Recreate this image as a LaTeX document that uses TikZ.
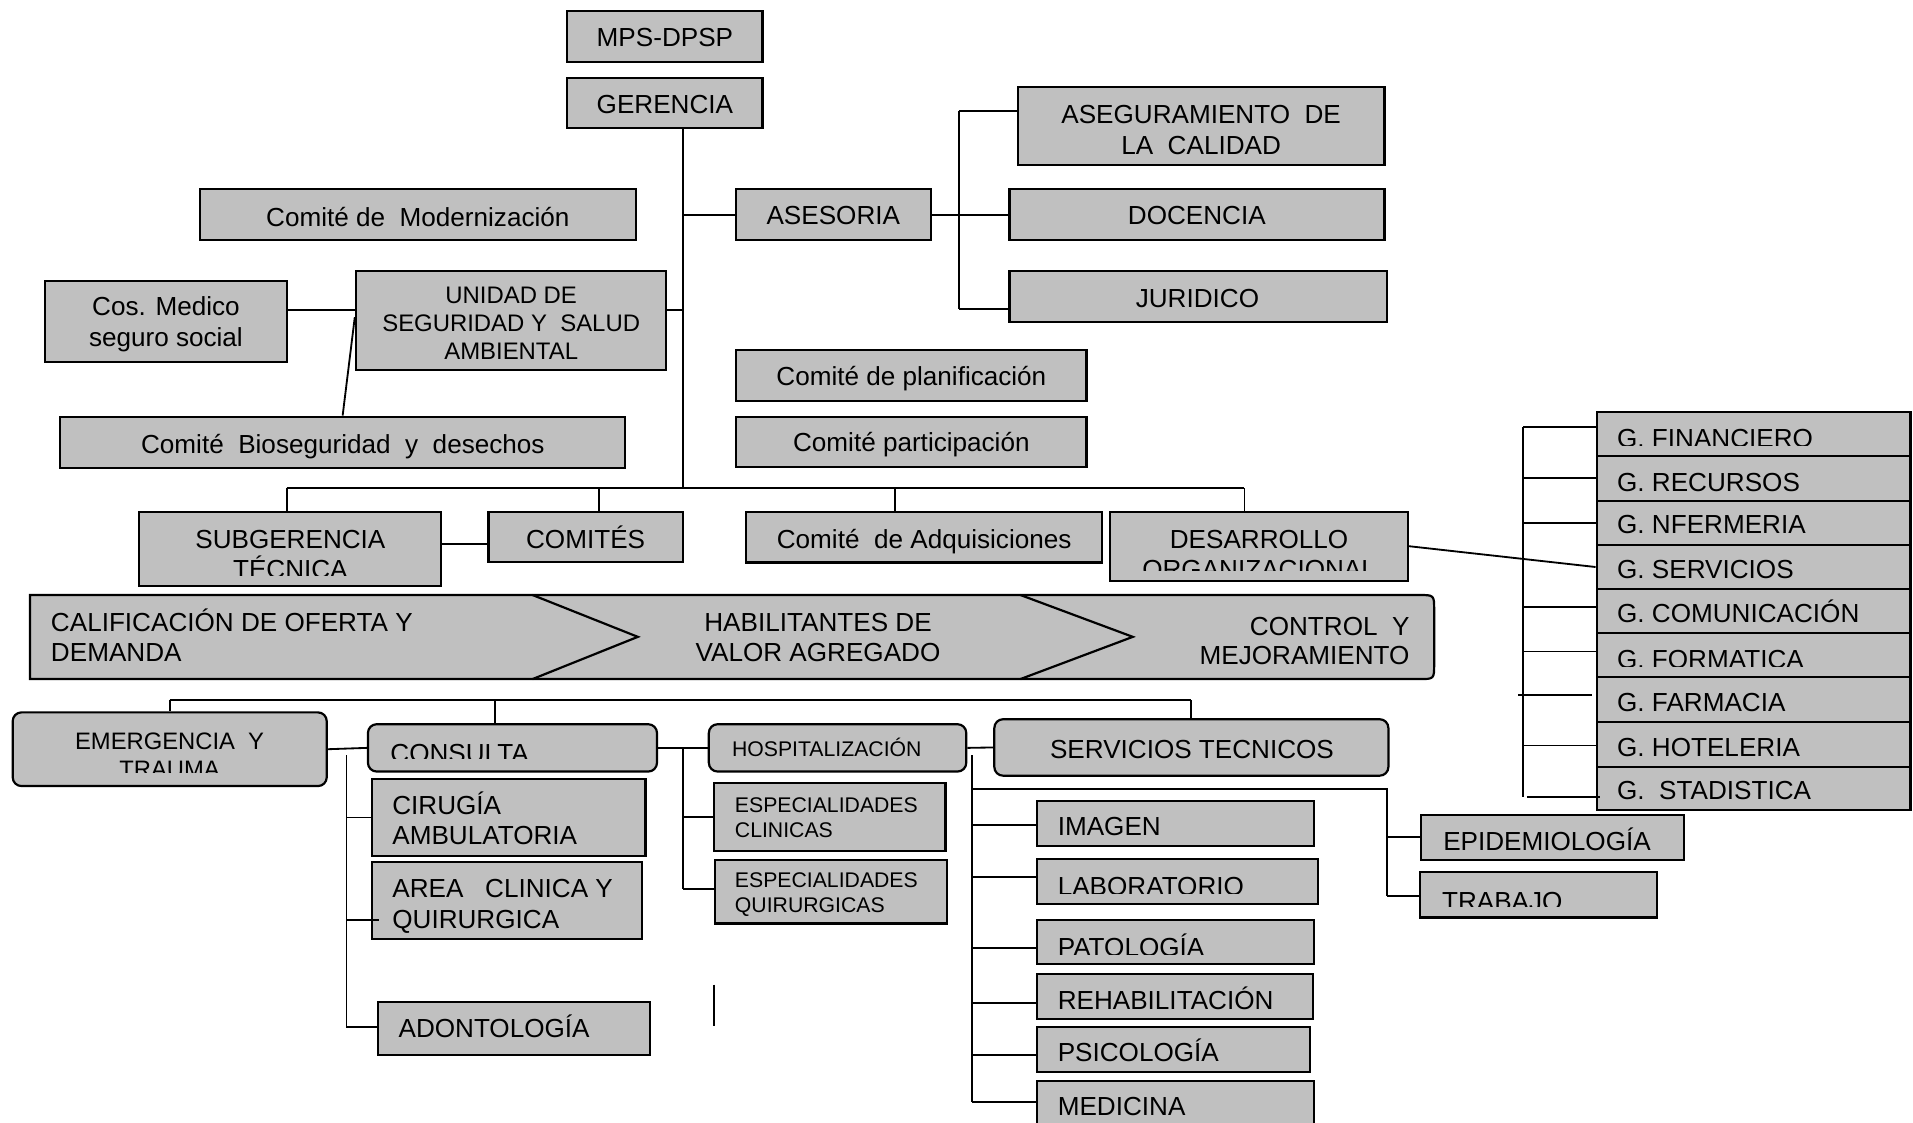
\documentclass[tikz,border=0pt]{standalone}
\usepackage{fontspec}
\setmainfont{Liberation Sans}
\definecolor{boxgray}{HTML}{C0C0C0}
\tikzset{
  box/.style={draw=black,fill=boxgray,line width=0.9pt,inner sep=0pt},
  rbox/.style={box,rounded corners=3.6pt},
  conn/.style={draw=black,line width=0.75pt},
  txt/.style={font=\fontsize{10.7pt}{12.3pt}\selectfont,inner sep=0pt,outer sep=0pt,text=black},
  txts/.style={font=\fontsize{9.8pt}{11.6pt}\selectfont,inner sep=0pt,outer sep=0pt,text=black},
  txte/.style={font=\fontsize{9.75pt}{11.6pt}\selectfont,inner sep=0pt,outer sep=0pt,text=black},
  txtx/.style={font=\fontsize{8.7pt}{10.3pt}\selectfont,inner sep=0pt,outer sep=0pt,text=black},
}
\newcommand\mkbx[6][box]{%
  \pgfmathsetmacro\mkcx{(#3+#5)/2}%
  \pgfmathsetmacro\mkcy{(#4+#6)/2}%
  \pgfmathsetmacro\mkw{(#5-#3)/2}%
  \pgfmathsetmacro\mkh{(#6-#4)/2}%
  \node[#1,minimum width=\mkw pt,minimum height=\mkh pt] (#2) at (\mkcx,\mkcy) {};%
}
\newcommand\lnL[3][12.3pt]{\vtop{\baselineskip=#1\relax\hbox{#2}\hbox{#3}}}
\newcommand\lnC[3][12.3pt]{\vtop{\baselineskip=#1\relax\halign{\hfil##\hfil\cr#2\cr#3\cr}}}
\newcommand\lnR[3][12.3pt]{\vtop{\baselineskip=#1\relax\halign{\hfil##\cr#2\cr#3\cr}}}
\newcommand\lnCCC[4][11.6pt]{\vtop{\baselineskip=#1\relax\halign{\hfil##\hfil\cr#2\cr#3\cr#4\cr}}}
\begin{document}
\begin{tikzpicture}[x=0.5pt,y=-0.5pt]
\useasboundingbox (0,0) rectangle (1568,920);
\clip (0,0) rectangle (1568,920);
\fill[white] (0,0) rectangle (1568,920);

% ---------- top part ----------
\mkbx{mps}{465}{8.7}{625}{50.6}
\node[txt,anchor=base] (tmps) at (545,38.3) {MPS-DPSP};
\mkbx{ger}{465}{64.2}{625}{105.2}
\node[txt,anchor=base] (tger) at (545,93) {GERENCIA};
\mkbx{mod}{163.6}{155}{521.4}{196.7}
\node[txt,anchor=base] (tmod) at (342.5,185.8) {Comité de~~Modernización};
\mkbx{ases}{603}{155.2}{763.4}{196.7}
\node[txt,anchor=base] (tases) at (683,184.4) {ASESORIA};
\mkbx{aseg}{834.3}{71.6}{1134.8}{135.2}
\node[txt,anchor=base] (taseg) at (984.5,101) {\lnC[12.75pt]{ASEGURAMIENTO~~DE}{LA~~CALIDAD}};
\mkbx{doc}{827.4}{155.2}{1134.8}{196.7}
\node[txt,anchor=base] (tdoc) at (981,184.4) {DOCENCIA};
\mkbx{jur}{827.4}{222}{1136.6}{263.7}
\node[txt,anchor=base] (tjur) at (981.5,252) {JURIDICO};
\mkbx{uni}{291.7}{222}{546}{303}
\node[txts,anchor=base] (tuni) at (419,248.6) {\lnCCC[11.6pt]{UNIDAD DE}{SEGURIDAD Y~~SALUD}{AMBIENTAL}};
\mkbx{cos}{36.6}{230}{235.3}{296.5}
\node[txt,anchor=base] (tcos) at (136,258.2) {\lnC[12.9pt]{Cos. Medico}{seguro social}};
\mkbx{bio}{49.4}{341.5}{512.3}{383.3}
\node[txt,anchor=base] (tbio) at (281,371.6) {Comité~~Bioseguridad~~y~~desechos};
\mkbx{pla}{603}{286.9}{890.6}{328.4}
\node[txt,anchor=base] (tpla) at (747,315.6) {Comité de planificación};
\mkbx{par}{603}{342}{890.6}{383}
\node[txt,anchor=base] (tpar) at (747,370.2) {Comité participación};

\mkbx{sub}{114}{419.4}{361.7}{480}
\begin{scope}
\clip (114,419.4) rectangle (361.7,471.3);
\node[txt,anchor=base] (tsub) at (238,449.5) {\lnC[12.3pt]{SUBGERENCIA}{TÉCNICA}};
\end{scope}
\mkbx{com}{400.4}{419.4}{560}{460.8}
\node[txt,anchor=base] (tcom) at (480,449.5) {COMITÉS};
\mkbx{adq}{611.6}{419.4}{903}{461}
\node[txt,anchor=base] (tadq) at (757.5,449.5) {Comité~~de Adquisiciones};
\mkbx{des}{910}{419.4}{1154}{476}
\begin{scope}
\clip (910,419.4) rectangle (1154,467.2);
\node[txt,anchor=base] (tdes) at (1032,449.4) {\lnC[12.3pt]{DESARROLLO}{ORGANIZACIONAL}};
\end{scope}

% ---------- G column ----------
\mkbx{gfin}{1308.7}{338}{1566}{373.8}
\mkbx{grec}{1308.7}{373.8}{1566}{410.4}
\mkbx{genf}{1308.7}{410.4}{1566}{446.7}
\mkbx{gser}{1308.7}{446.7}{1566}{482.8}
\mkbx{gcom}{1308.7}{482.8}{1566}{518.6}
\mkbx{gfor}{1308.7}{518.6}{1566}{555.2}
\mkbx{gfar}{1308.7}{555.2}{1566}{591.5}
\mkbx{ghot}{1308.7}{591.5}{1566}{628.4}
\mkbx{gsta}{1308.7}{628.4}{1566}{664}
\begin{scope}
\clip (1308.7,338) rectangle (1566,364.8);
\node[txt,anchor=base west] (tgfin) at (1325.5,366.5) {G. FINANCIERO};
\end{scope}
\node[txt,anchor=base west] (tgrec) at (1325.5,403) {G. RECURSOS};
\node[txt,anchor=base west] (tgenf) at (1325.5,437) {G. NFERMERIA};
\node[txt,anchor=base west] (tgser) at (1325.5,474) {G. SERVICIOS};
\node[txt,anchor=base west] (tgcom) at (1325.5,510.4) {G. COMUNICACIÓN};
\begin{scope}
\clip (1308.7,518.6) rectangle (1566,546.5);
\node[txt,anchor=base west] (tgfor) at (1325.5,548) {G. FORMATICA};
\end{scope}
\node[txt,anchor=base west] (tgfar) at (1325.5,583.3) {G. FARMACIA};
\node[txt,anchor=base west] (tghot) at (1325.5,620.2) {G. HOTELERIA};
\node[txt,anchor=base west] (tgsta) at (1325.5,655.7) {G.~~STADISTICA};

% ---------- process band ----------
\path[fill=boxgray,draw=black,line width=0.9pt]
  (24.6,487.7) -- (1163,487.7) .. controls (1175.5,487.7) .. (1175.5,500)
  -- (1175.5,544.3) .. controls (1175.5,556.6) .. (1163,556.6) -- (24.6,556.6) -- cycle;
\draw[line width=0.9pt] (436.5,487.7) -- (522.8,522) -- (436.5,556.6);
\draw[line width=0.9pt] (836.4,487.7) -- (928.5,522) -- (836.4,556.6);
\node[txt,anchor=base west] (tcal) at (41.8,517.8) {\lnL[12.25pt]{CALIFICACIÓN DE OFERTA Y}{DEMANDA}};
\node[txt,anchor=base] (thab) at (670.5,517.8) {\lnC[12.25pt]{HABILITANTES DE}{VALOR AGREGADO}};
\node[txt,anchor=base east] (tcon) at (1155.3,520.5) {\lnR[12.25pt]{CONTROL~~Y}{MEJORAMIENTO}};

% ---------- bottom part ----------
\mkbx[rbox]{emer}{10.4}{583.9}{267.8}{644.3}
\begin{scope}
\clip (10.4,583.9) rectangle (267.8,633.3);
\node[txte,anchor=base] (temer) at (139,614.2) {\lnC[11.6pt]{EMERGENCIA~~Y}{TRAUMA}};
\end{scope}
\mkbx[rbox]{cons}{301.6}{593.6}{538.5}{632.4}
\begin{scope}
\clip (301.6,593.6) rectangle (538.5,622);
\node[txt,anchor=base west] (tcons) at (320,624.6) {CONSULTA};
\end{scope}
\mkbx[rbox]{hosp}{581}{593.6}{792}{632.4}
\node[txtx,anchor=base west] (thosp) at (600,620) {HOSPITALIZACIÓN};
\mkbx[rbox]{serv}{815}{589.5}{1138}{635.8}
\node[txt,anchor=base] (tserv) at (977,621.5) {SERVICIOS TECNICOS};

\mkbx{cir}{305}{638.5}{529}{701.6}
\node[txt,anchor=base west] (tcir) at (321.6,668) {\lnL[12.3pt]{CIRUGÍA}{AMBULATORIA}};
\mkbx{area}{305}{706.6}{526}{769.8}
\node[txt,anchor=base west] (tarea) at (321.6,736) {\lnL[12.45pt]{AREA~~~CLINICA Y}{QUIRURGICA}};
\mkbx{adon}{309.5}{821}{533}{865}
\node[txt,anchor=base west] (tadon) at (326.7,850) {ADONTOLOGÍA};

\mkbx{espc}{585}{641.6}{775}{697.4}
\node[txtx,anchor=base west] (tespc) at (602.4,666) {\lnL[10.3pt]{ESPECIALIDADES}{CLINICAS}};
\mkbx{espq}{586}{705}{776}{757}
\node[txtx,anchor=base west] (tespq) at (602.4,727.6) {\lnL[10pt]{ESPECIALIDADES}{QUIRURGICAS}};

\mkbx{ima}{849.8}{656.6}{1077}{693.4}
\node[txt,anchor=base west] (tima) at (867,685) {IMAGEN};
\mkbx{lab}{849.8}{704}{1080.6}{741}
\begin{scope}
\clip (849.8,704) rectangle (1080.6,732);
\node[txt,anchor=base west] (tlab) at (867,734.3) {LABORATORIO};
\end{scope}
\mkbx{pat}{849.8}{754}{1077}{790}
\begin{scope}
\clip (849.8,754) rectangle (1077,782);
\node[txt,anchor=base west] (tpat) at (867,784) {PATOLOGÍA};
\end{scope}
\mkbx{reh}{849.8}{798.5}{1076.5}{835}
\node[txt,anchor=base west] (treh) at (867,827.3) {REHABILITACIÓN};
\mkbx{psi}{849.8}{842}{1074}{878.5}
\node[txt,anchor=base west] (tpsi) at (867,870.2) {PSICOLOGÍA};
\mkbx{med}{849.8}{886}{1077}{945}
\node[txt,anchor=base west] (tmed) at (867,914) {MEDICINA};
\mkbx{epi}{1165}{668}{1380}{705}
\node[txt,anchor=base west] (tepi) at (1183,696.7) {EPIDEMIOLOGÍA};
\mkbx{tra}{1164}{715}{1358}{752}
\begin{scope}
\clip (1164,715) rectangle (1358,743);
\node[txt,anchor=base west] (ttra) at (1182,746.3) {TRABAJO};
\end{scope}

% ---------- connectors (top) ----------
\coordinate (spT) at (560,400);
\draw[conn] (ger.south -| spT) -- (spT);
\coordinate (b1) at (235,400);
\coordinate (b2) at (491,400);
\coordinate (b3) at (733.4,400);
\coordinate (b4) at (1020,400);
\draw[conn] (b1) -- (b4);
\draw[conn] (b1) -- (b1 |- sub.north);
\draw[conn] (b2) -- (b2 |- com.north);
\draw[conn] (b3) -- (b3 |- adq.north);
\draw[conn] (b4) -- (b4 |- des.north);
\draw[conn] (ases.west) -- (ases.west -| spT);
\coordinate (yU) at (0,254);
\draw[conn] (uni.east |- yU) -- (spT |- yU);
\draw[conn] (cos.east |- yU) -- (uni.west |- yU);
\draw[conn] (bio.north) -- ([yshift=1.25pt]uni.west);
\coordinate (ab) at (786,176);
\draw[conn] (ases.east) -- (ases.east -| ab);
\coordinate (abT) at (786,90.7);
\coordinate (abB) at (786,253);
\draw[conn] (abT) -- (abB);
\draw[conn] (abT) -- (abT -| aseg.west);
\draw[conn] (doc.west -| ab) -- (doc.west);
\draw[conn] (abB) -- (abB -| jur.west);
\coordinate (ySC) at (0,446);
\draw[conn] (sub.east |- ySC) -- (com.west |- ySC);
\draw[conn] (des.east) -- (gser.west);

% ---------- G bus ----------
\coordinate (gT) at (1248.5,349.7);
\coordinate (gB) at (1248.5,653.5);
\draw[conn] (gT) -- (gB);
\draw[conn] (gT) -- (gT -| gfin.west);
\coordinate (g2) at (1248.5,392);
\draw[conn] (g2) -- (g2 -| grec.west);
\coordinate (g3) at (1248.5,429);
\draw[conn] (g3) -- (g3 -| genf.west);
\coordinate (g5) at (1248.5,497.8);
\draw[conn] (g5) -- (g5 -| gcom.west);
\coordinate (g6) at (1248.5,534);
\draw[conn] (g6) -- (g6 -| gfor.west);
\coordinate (g7) at (1244.5,569.7);
\coordinate (g7e) at (1304.7,569.7);
\draw[conn] (g7) -- (g7e);
\coordinate (g8) at (1248.5,611);
\draw[conn] (g8) -- (g8 -| ghot.west);
\coordinate (g9) at (1251.4,653.5);
\coordinate (g9e) at (1311.5,653.5);
\draw[conn] (g9) -- (g9e);

% ---------- connectors (bottom) ----------
\coordinate (c1) at (139,573.8);
\coordinate (c2) at (405.6,573.8);
\coordinate (c3) at (976.5,573.8);
\draw[conn] (c1) -- (c3);
\draw[conn] (c1) -- (c1 |- emer.north);
\draw[conn] (c2) -- (c2 |- cons.north);
\draw[conn] (c3) -- (c3 |- serv.north);
\draw[conn] (emer.east) -- (cons.west);
\draw[conn] (cons.east) -- (hosp.west);
\draw[conn] (hosp.east) -- (serv.west);

\coordinate (k1) at (284,619);
\coordinate (k2) at (284,841.5);
\draw[conn] (k1) -- (k2);
\draw[conn] (cir.west -| k1) -- (cir.west);
\coordinate (k3) at (284,754);
\coordinate (k3e) at (311,754);
\draw[conn] (k3) -- (k3e);
\draw[conn] (k2) -- (k2 -| adon.west);

\coordinate (h1) at (560,613);
\coordinate (h2) at (560,729);
\draw[conn] (h1) -- (h2);
\draw[conn] (espc.west -| h1) -- (espc.west);
\draw[conn] (h2) -- (h2 -| espq.west);

\coordinate (s1) at (796.5,619);
\coordinate (s2) at (796.5,903);
\draw[conn] (s1) -- (s2);
\foreach \yy/\nn in {676/ima,719/lab,777/pat,822/reh,865/psi,903/med}{
  \coordinate (sx) at (796.5,\yy);
  \draw[conn] (sx) -- (sx -| \nn.west);
}
\coordinate (e1) at (796.5,646.7);
\coordinate (e2) at (1137,646.7);
\coordinate (e3) at (1137,734.5);
\draw[conn] (e1) -- (e2) -- (e3);
\coordinate (e4) at (1137,685.8);
\draw[conn] (e4) -- (e4 -| epi.west);
\draw[conn] (e3) -- (e3 -| tra.west);

\coordinate (z1) at (585,807);
\coordinate (z2) at (585,841);
\draw[conn] (z1) -- (z2);
\end{tikzpicture}
\end{document}
